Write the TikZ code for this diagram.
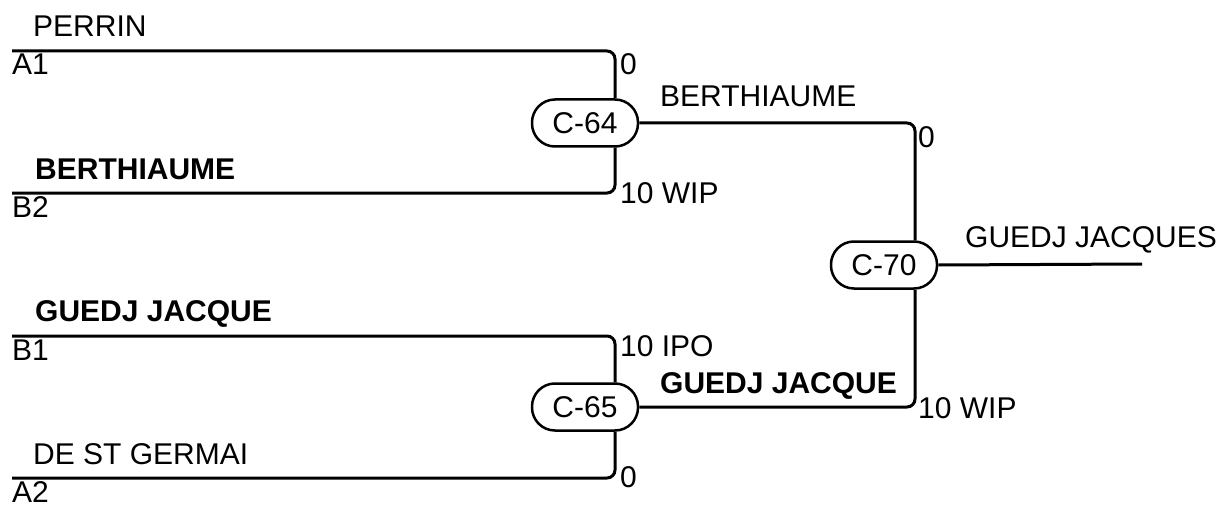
\documentclass[tikz,border=0pt]{standalone}
\usepackage{fontspec}
\setmainfont{Liberation Sans}
\usetikzlibrary{positioning}

\tikzset{
  match/.style={draw, line width=2.5pt, rounded corners=23pt, minimum width=106pt, minimum height=47pt, inner sep=0pt},
  wire/.style={line width=3pt, rounded corners=8pt},
  txt/.style={anchor=base west, inner sep=0pt},
}

\begin{document}
\begin{tikzpicture}[x=1pt, y=-1pt, font=\fontsize{30}{36}\selectfont]
        \useasboundingbox (0,0) rectangle (1226,508);

        % matches
        \node[match] (C64) at (585,123) {C-64};
        \node[match] (C65) at (585,407) {C-65};
        \node[match] (C70) at (884,265) {C-70};

        % columns and line starts
        \coordinate (colA) at (615,0);
        \coordinate (colB) at (915,0);
        \coordinate (inA1) at (12,51);
        \coordinate (inB2) at (12,193);
        \coordinate (inB1) at (12,336);
        \coordinate (inA2) at (12,478);
        \coordinate (win) at (1142,264);

        % player lines
        \draw[wire] (inA1) -| (colA |- C64.north);
        \draw[wire] (inB2) -| (colA |- C64.south);
        \draw[wire] (inB1) -| (colA |- C65.north);
        \draw[wire] (inA2) -| (colA |- C65.south);
        \draw[wire] (C64.east) -| (colB |- C70.north);
        \draw[wire] (C65.east) -| (colB |- C70.south);
        \draw[wire] (C70.east) -- (win);

        % names and seeds
        \node[txt] (nPerrin) at (33,37) {PERRIN};
        \node[txt] (sA1) at (12,75) {A1};
        \node[txt] (nBerth) at (35,179) {\bfseries BERTHIAUME};
        \node[txt] (sB2) at (12,217) {B2};
        \node[txt] (nGuedj) at (35,321) {\bfseries GUEDJ JACQUE};
        \node[txt] (sB1) at (12,360) {B1};
        \node[txt] (nGermai) at (33,464) {DE ST GERMAI};
        \node[txt] (sA2) at (12,502) {A2};

        % winners
        \node[txt] (wC64) at (660,107) {BERTHIAUME};
        \node[txt] (wC65) at (660,393) {\bfseries GUEDJ JACQUE};
        \node[txt] (wC70) at (965,247) {GUEDJ JACQUES};

        % scores
        \node[txt] (pA1) at (620,75) {0};
        \node[txt] (pB2) at (620,203) {10 WIP};
        \node[txt] (pB1) at (620,356) {10 IPO};
        \node[txt] (pA2) at (620,487) {0};
        \node[txt] (pC64) at (918,147) {0};
        \node[txt] (pC65) at (918,418) {10 WIP};
    \end{tikzpicture}
\end{document}
